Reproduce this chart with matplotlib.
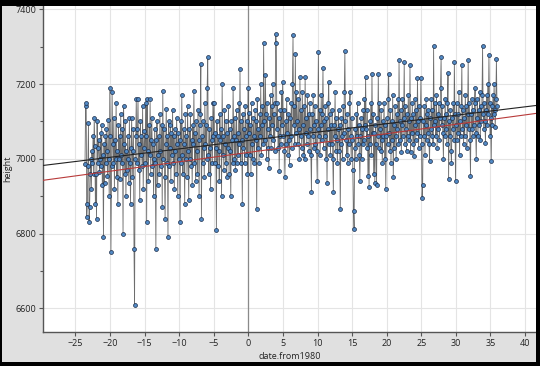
import numpy as np
import matplotlib
matplotlib.use("Agg")
import matplotlib.pyplot as plt
from matplotlib.patches import Rectangle
from matplotlib.ticker import MultipleLocator

# Monthly heights, one row per year (first row starts in May 1956)
years = list(range(1956, 2016))
height_rows = [
    [6985, 7140, 7150, 6845, 6880, 6980, 7095, 6830],
    [6870, 6960, 7000, 6920, 7020, 6990, 7060, 6960, 7110, 7035, 6880, 6960],
    [6840, 7100, 6990, 7030, 7050, 6965, 7000, 7070, 6980, 7090, 6930, 7010],
    [6790, 7040, 6935, 7060, 6990, 7080, 7020, 6955, 7105, 7000, 6900, 7190],
    [7060, 6750, 6980, 7180, 7040, 6990, 7110, 6920, 7050, 7000, 7150, 6950],
    [7020, 6880, 7090, 7000, 7060, 6945, 7120, 7010, 6990, 7080, 6800, 7140],
    [7040, 6960, 7100, 6900, 7020, 6970, 7060, 7000, 6935, 7110, 6990, 6880],
    [7030, 7110, 6950, 7020, 7080, 6760, 6608, 7000, 7060, 7160, 6990, 7080],
    [7160, 6970, 7040, 6890, 7100, 7010, 7060, 6980, 7140, 6920, 7030, 7075],
    [6990, 7060, 7150, 6830, 7160, 7020, 6940, 7090, 7010, 7160, 6960, 7050],
    [7110, 6980, 7040, 6900, 7000, 7080, 6990, 6760, 7050, 7100, 6930, 7010],
    [7060, 6960, 7120, 7020, 6980, 7090, 6870, 7181, 7000, 7080, 6950, 6840],
    [7040, 7133, 6990, 7060, 6790, 7100, 6980, 7030, 7090, 6940, 7070, 7010],
    [7130, 6990, 7060, 6920, 7080, 7020, 6960, 7110, 7040, 6900, 7070, 7000],
    [7050, 6830, 7100, 6990, 7170, 7010, 6960, 7080, 7040, 6880, 7120, 7000],
    [7060, 6950, 7140, 7020, 6890, 7080, 7000, 7120, 6980, 7050, 6930, 7090],
    [7040, 7181, 6990, 7070, 6940, 7100, 7020, 6960, 7130, 7050, 6900, 7090],
    [7120, 7253, 6840, 7060, 6990, 7100, 7030, 6950, 7150, 7040, 7090, 7000],
    [7190, 7272, 7010, 6960, 7080, 7030, 6920, 7110, 7050, 6990, 7150, 7060],
    [7150, 6990, 7070, 7030, 6810, 7100, 6980, 7060, 7020, 6940, 7120, 7050],
    [7080, 6900, 7200, 7010, 7060, 6970, 7130, 7040, 6990, 7100, 6950, 7070],
    [7030, 7140, 6960, 7080, 7020, 6900, 7100, 7050, 6990, 7190, 7060, 7000],
    [7110, 6970, 7050, 7130, 6990, 7070, 7010, 7150, 7040, 7240, 6990, 7100],
    [7050, 6880, 7120, 7030, 7080, 6990, 7140, 7060, 7010, 7100, 6960, 7190],
    [7070, 7122, 7010, 7090, 6960, 7150, 7040, 7000, 7110, 7060, 6990, 7130],
    [7050, 7100, 6865, 7160, 7030, 7080, 6990, 7120, 7060, 7200, 7010, 7090],
    [7140, 7040, 7310, 7100, 7050, 7224, 7120, 7000, 7150, 7080, 7030, 6975],
    [7110, 7060, 7170, 7030, 7140, 7090, 7200, 7050, 7120, 7020, 7150, 7333],
    [7310, 7080, 7150, 7030, 7110, 6967, 7060, 7130, 7040, 7180, 7090, 7205],
    [7060, 7130, 7020, 6950, 7100, 7040, 7160, 7070, 7010, 7120, 7050, 6983],
    [7110, 7060, 7150, 7030, 7200, 7330, 7090, 7140, 7040, 7280, 7070, 7180],
    [7100, 7040, 7160, 7080, 7000, 7218, 7060, 7130, 7030, 7180, 7090, 7010],
    [7140, 7000, 7218, 7070, 7110, 7040, 7170, 7060, 7120, 7020, 7150, 7080],
    [7010, 6910, 7120, 7060, 7170, 7030, 7090, 7140, 7040, 7100, 7020, 6940],
    [7080, 7285, 7060, 7130, 7010, 7090, 7170, 7050, 7120, 7243, 7030, 7100],
    [7060, 7140, 7000, 7110, 6935, 7080, 7150, 7205, 7040, 7120, 7010, 7090],
    [7040, 7130, 7000, 6910, 7090, 7060, 7178, 7020, 7110, 7050, 6990, 7080],
    [7130, 7020, 7090, 6865, 7040, 7110, 7060, 7000, 7140, 7070, 7180, 7288],
    [7100, 7050, 7010, 7120, 6990, 7080, 7040, 7150, 7178, 7060, 7000, 7110],
    [7050, 6970, 6860, 6812, 7030, 7080, 7000, 7120, 7060, 7150, 7040, 7090],
    [7010, 6940, 7060, 7110, 7000, 7080, 7040, 7130, 7050, 7160, 7090, 7218],
    [7080, 7030, 7130, 6955, 7060, 6925, 7100, 7040, 7150, 7010, 7228, 7070],
    [7120, 6960, 7070, 6935, 7090, 7040, 6930, 7110, 7060, 7228, 7030, 7150],
    [7080, 7020, 7130, 7050, 6990, 7100, 7060, 7150, 7000, 7090, 6918, 7060],
    [7110, 7040, 7160, 7228, 7070, 7020, 7130, 6990, 7100, 7050, 7170, 6950],
    [7090, 7030, 7140, 7060, 7000, 7120, 7080, 7160, 7040, 7264, 7100, 7050],
    [7130, 7018, 7090, 7160, 7060, 7110, 7260, 7040, 7140, 7080, 7020, 7120],
    [7060, 7170, 7100, 7050, 7250, 7018, 7110, 7070, 7150, 7040, 7120, 7007],
    [7090, 7160, 7050, 7130, 7070, 7215, 7100, 7030, 7140, 7060, 7110, 7215],
    [7040, 6895, 6930, 7100, 7060, 7140, 7010, 7090, 7160, 7050, 7120, 7070],
    [7130, 7040, 6994, 7110, 7080, 7160, 7060, 7130, 7040, 7301, 7090, 7150],
    [7100, 7060, 7170, 7030, 7120, 7080, 7150, 7050, 7110, 7190, 7272, 7090],
    [7140, 7070, 7000, 7110, 7060, 7160, 7080, 7120, 7040, 7150, 7229, 6945],
    [7100, 7060, 7130, 7020, 6990, 7110, 7080, 7150, 7050, 7258, 7120, 6940],
    [7090, 7150, 7050, 7120, 7070, 7180, 7010, 7100, 7060, 7140, 7250, 7080],
    [7130, 7040, 7110, 7060, 7170, 7090, 7140, 7030, 7120, 7264, 7080, 7150],
    [7050, 6953, 7120, 7080, 7160, 7060, 7130, 7090, 7150, 7190, 7070, 7000],
    [7110, 7160, 7060, 7130, 7090, 7180, 7050, 7140, 7100, 7170, 7301, 7120],
    [7080, 7150, 7100, 7043, 7130, 7170, 7090, 7200, 7120, 7277, 7150, 7060],
    [7110, 6994, 7140, 7090, 7170, 7120, 7200, 7130, 7085, 7160, 7267, 7140],
]

# Fitted trend lines: [intercept at 1980, slope per year]
black_fit = [7049.0, 2.25]
red_fit = [7017.0, 2.51]

x_ticks = [-25, -20, -15, -10, -5, 0, 5, 10, 15, 20, 25, 30, 35, 40]
y_ticks = [6600, 6800, 7000, 7200, 7400]

# assemble monthly series
date_from1980 = []
height = []
for yr, row in zip(years, height_rows):
    first = 12 - len(row)
    for k, v in enumerate(row):
        date_from1980.append(yr - 1980 + (first + k + 0.5) / 12.0)
        height.append(v)
date_from1980 = np.array(date_from1980)
height = np.array(height)

plt.rcParams['font.family'] = ['Open Sans', 'DejaVu Sans']

W, H = 540, 366
fig = plt.figure(figsize=(W / 100, H / 100), dpi=100, facecolor='#e0e0e0')
ax = fig.add_axes([43 / W, 1 - 332 / H, (536 - 43) / W, (332 - 6) / H])
ax.set_facecolor('white')

xlim = (-29.7, 41.6)
ax.set_xlim(*xlim)
ax.set_ylim(6536.6, 7408.8)

ax.grid(True, color='#e4e4e4', linewidth=0.8, zorder=0)
ax.set_axisbelow(True)
ax.axvline(0, color='#8a8a8a', linewidth=0.9, zorder=1)

ax.plot(date_from1980, height, color='#3c3c3c', linewidth=0.6, alpha=0.75, zorder=2)
ax.scatter(date_from1980, height, s=8, facecolor='#5189c4', edgecolor='#1c2c48',
           linewidth=0.5, zorder=3)

xs = np.array(xlim)
ax.plot(xs, black_fit[0] + black_fit[1] * xs, color='#222222', linewidth=0.8, zorder=4)
ax.plot(xs, red_fit[0] + red_fit[1] * xs, color='#b83a3a', linewidth=0.8, zorder=4)

ax.set_xticks(x_ticks)
ax.set_yticks(y_ticks)
ax.set_xticklabels([str(t).replace('-', '\u2212') for t in x_ticks])
ax.yaxis.set_minor_locator(MultipleLocator(100))
ax.tick_params(axis='both', which='major', labelsize=6.5, length=3, width=0.8,
               color='#555555', labelcolor='#222222', pad=2)
ax.tick_params(axis='y', which='minor', length=2, width=0.8, color='#555555')

for s in ['top', 'right']:
    ax.spines[s].set_visible(False)
for s in ['left', 'bottom']:
    ax.spines[s].set_color('#555555')
    ax.spines[s].set_linewidth(1.0)

ax.set_xlabel('date.from1980', fontsize=6.5, color='#222222', labelpad=3)
ax.set_ylabel('height', fontsize=6.5, color='#222222')
ax.yaxis.set_label_coords(-0.063, 0.5)

# black frame of the screenshot
for (x0, y0, w, h) in [(0, 0, W, 6), (0, 362, W, 4), (0, 0, 1.5, H), (536, 0, 4, H)]:
    fig.patches.append(Rectangle((x0 / W, 1 - (y0 + h) / H), w / W, h / H,
                                 transform=fig.transFigure, facecolor='black',
                                 edgecolor='none', zorder=10))

fig.savefig('out.png', dpi=100, facecolor=fig.get_facecolor())
